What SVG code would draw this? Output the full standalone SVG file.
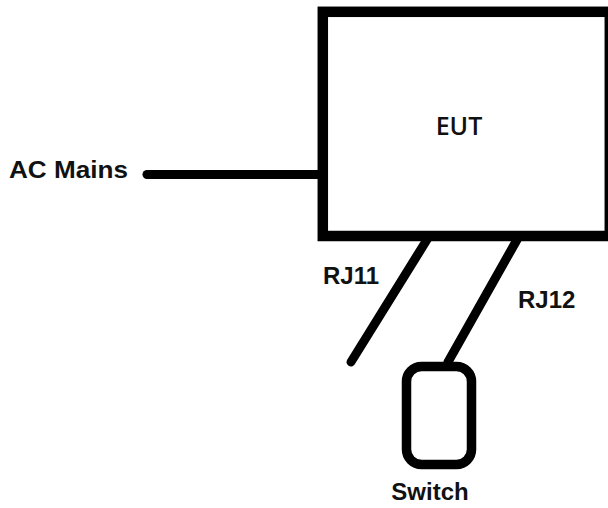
<svg xmlns="http://www.w3.org/2000/svg" width="608" height="508" viewBox="0 0 608 508">
<style>
.lbl{font-family:"Liberation Sans",Arial,sans-serif;font-weight:bold;font-size:24px;fill:#111}
.eut{font-family:"Open Sans","Liberation Sans",sans-serif;font-weight:600;font-size:25px;fill:#111}
.wire{stroke:#000;stroke-width:9;stroke-linecap:round;fill:none}
.box{stroke:#000;stroke-width:10.5;fill:#fff}
</style>
<rect width="608" height="508" fill="#fff"/>
<g id="connectors">
<line class="wire" x1="147" y1="174.5" x2="322" y2="174.5"/>
<line class="wire" x1="428" y1="238" x2="351" y2="362"/>
<line class="wire" x1="518" y1="238" x2="448" y2="362"/>
</g>
<g id="eut">
<rect class="box" x="322.8" y="11.8" width="287" height="224.2"/>
<text class="eut" x="459" y="135" text-anchor="middle">EUT</text>
</g>
<g id="ac-mains">
<text class="lbl" x="9" y="177.5" textLength="119" lengthAdjust="spacingAndGlyphs">AC Mains</text>
</g>
<g id="rj11">
<text class="lbl" x="323" y="284">RJ11</text>
</g>
<g id="rj12">
<text class="lbl" x="518" y="307.5">RJ12</text>
</g>
<g id="switch">
<rect x="406.5" y="366.5" width="65" height="98" rx="15" ry="15" fill="#fff" stroke="#000" stroke-width="9.5"/>
<text class="lbl" x="430" y="500" text-anchor="middle">Switch</text>
</g>
</svg>
